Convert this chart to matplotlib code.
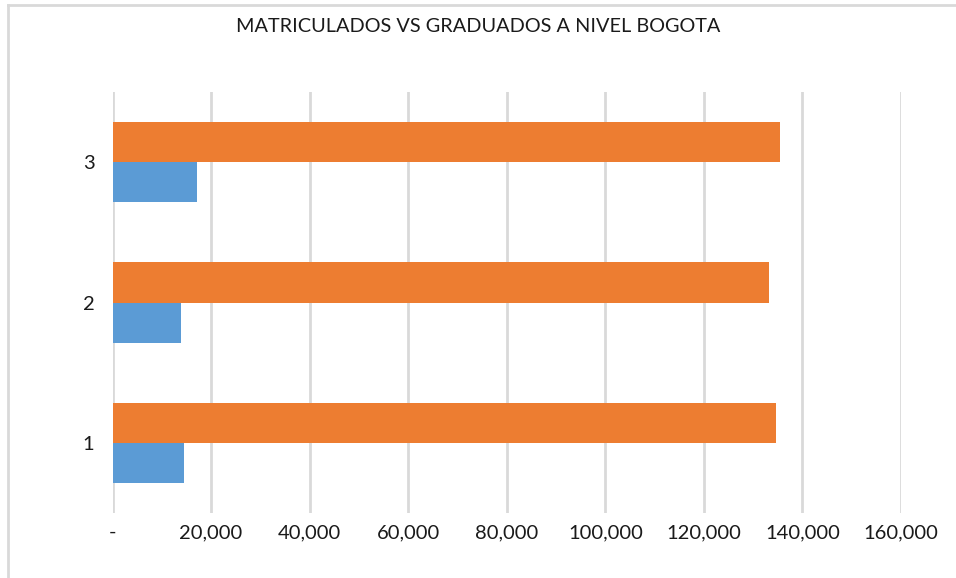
import matplotlib.pyplot as plt
from matplotlib.lines import Line2D
import numpy as np

categorias = ['1', '2', '3']
graduados = [14500, 13900, 17100]
matriculados = [134600, 133200, 135400]
xticks = [0, 20000, 40000, 60000, 80000, 100000, 120000, 140000, 160000]
xlabels = ['-', '20,000', '40,000', '60,000', '80,000', '100,000', '120,000', '140,000', '160,000']

plt.rcParams['font.family'] = ['Lato', 'DejaVu Sans']

fig = plt.figure(figsize=(9.56, 5.78), dpi=100)
ax = fig.add_axes([112.5 / 956, 1 - 513 / 578, (901 - 112.5) / 956, (513 - 92) / 578])

y = np.arange(1, len(categorias) + 1)
h = 0.286
ax.barh(y - h / 2, graduados, height=h, color='#5b9bd5', zorder=3)
ax.barh(y + h / 2, matriculados, height=h, color='#ed7d31', zorder=3)

ax.set_xlim(0, 160000)
ax.set_ylim(0.5, 3.5)
ax.set_xticks(xticks)
ax.set_xticklabels(xlabels, fontsize=14.5, color='#1a1a1a')
ax.set_yticks(y)
ax.set_yticklabels(categorias, fontsize=14.5, color='#1a1a1a')
ax.tick_params(axis='x', length=0, pad=8)
ax.tick_params(axis='y', length=0, pad=13)
ax.grid(axis='x', color='#d9d9d9', linewidth=2, zorder=0)
for s in ax.spines.values():
    s.set_visible(False)

fig.text(0.5, 1 - 27 / 578, 'MATRICULADOS VS GRADUADOS A NIVEL BOGOTA',
         ha='center', va='center', fontsize=14.3, color='#1a1a1a')

# marco del grafico
fig.add_artist(Line2D([8 / 956, 8 / 956], [0, 1 - 5 / 578], color='#d9d9d9', linewidth=2,
                      transform=fig.transFigure))
fig.add_artist(Line2D([8 / 956, 1], [1 - 5 / 578, 1 - 5 / 578], color='#d9d9d9', linewidth=2,
                      transform=fig.transFigure))

fig.savefig('out.png', dpi=100)
